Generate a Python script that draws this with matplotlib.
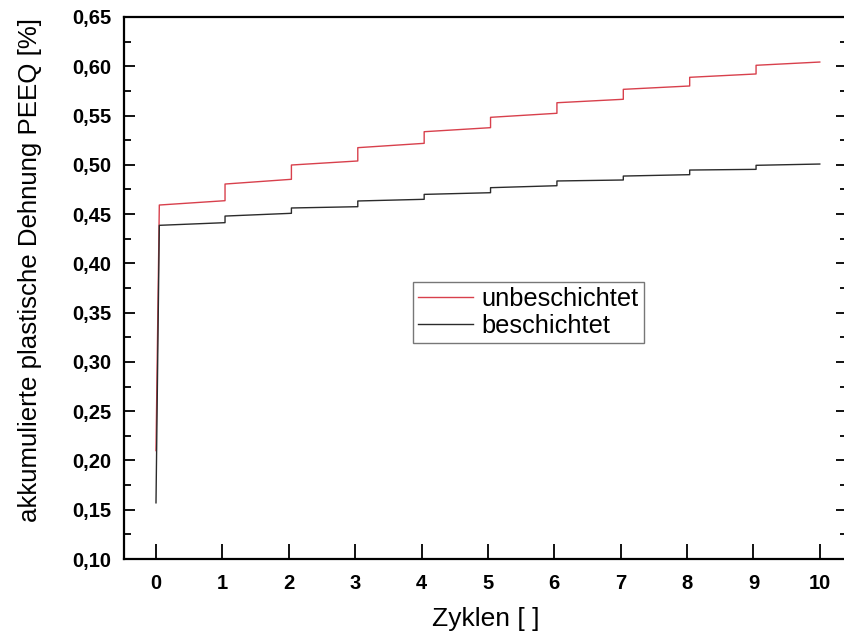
import numpy as np
import matplotlib
matplotlib.use("Agg")
import matplotlib.pyplot as plt
from matplotlib.ticker import MultipleLocator, FuncFormatter

plt.rcParams['font.family'] = ['Liberation Sans', 'DejaVu Sans']

# Cycle boundaries (Zyklen) where the strain steps up
step_x = [0.05, 1.04, 2.04, 3.04, 4.04, 5.04, 6.04, 7.04, 8.04, 9.04]
end_x = 10.0

# Initial loading (value at x=0)
start_unbesch = 0.21
start_besch = 0.157

# PEEQ at the beginning and end of each cycle
unbesch_start = [0.4592, 0.4805, 0.4998, 0.5174, 0.5336, 0.5482, 0.5630, 0.5766, 0.5888, 0.6010]
unbesch_end = [0.4636, 0.4853, 0.5039, 0.5218, 0.5377, 0.5523, 0.5665, 0.5800, 0.5922, 0.6043]
besch_start = [0.4386, 0.4480, 0.4562, 0.4633, 0.4700, 0.4768, 0.4836, 0.4886, 0.4947, 0.4995]
besch_end = [0.4413, 0.4508, 0.4575, 0.4650, 0.4717, 0.4788, 0.4846, 0.4900, 0.4954, 0.5008]

x_ticks = list(range(0, 11))


def staircase(y0, xs, starts, ends, xend):
    xs_out = [0.0, xs[0]]
    ys_out = [y0, starts[0]]
    bounds = list(xs[1:]) + [xend]
    for i, xb in enumerate(bounds):
        xs_out.append(xb)
        ys_out.append(ends[i])
        if i + 1 < len(starts):
            xs_out.append(xb)
            ys_out.append(starts[i + 1])
    return xs_out, ys_out


fig = plt.figure(figsize=(8.44, 6.39), dpi=100)
ax = fig.add_axes([124 / 844, 1 - 559 / 639, (847 - 124) / 844, (559 - 17) / 639])

xr, yr = staircase(start_unbesch, step_x, unbesch_start, unbesch_end, end_x)
xb, yb = staircase(start_besch, step_x, besch_start, besch_end, end_x)

ax.plot(xr, yr, color='#d8404c', lw=1.0, label='unbeschichtet')
ax.plot(xb, yb, color='#2b2b2b', lw=1.0, label='beschichtet')

ax.set_xlim(-0.482, 10.41)
ax.set_ylim(0.10, 0.65)
ax.set_xticks(x_ticks)
ax.yaxis.set_major_locator(MultipleLocator(0.05))
ax.yaxis.set_minor_locator(MultipleLocator(0.025))
ax.yaxis.set_major_formatter(FuncFormatter(lambda v, p: f"{v:.2f}".replace('.', ',')))

for s in ax.spines.values():
    s.set_linewidth(1.6)

ax.tick_params(axis='x', which='major', direction='in', length=11, width=1.3,
               labelsize=14.5, pad=11, top=False)
ax.tick_params(axis='y', which='major', direction='in', length=8, width=1.3,
               labelsize=14.5, pad=9, right=True)
ax.tick_params(axis='y', which='minor', direction='in', length=5, width=1.3, right=True)
for lbl in ax.get_xticklabels() + ax.get_yticklabels():
    lbl.set_fontweight('bold')

ax.set_xlabel('Zyklen [ ]', fontsize=19, labelpad=10)
ax.set_ylabel('akkumulierte plastische Dehnung PEEQ [%]', fontsize=18.6)
ax.yaxis.set_label_coords(-0.113, 0.533)

leg = ax.legend(loc='upper left', fontsize=18.3,
                bbox_to_anchor=(413 / 844, 1 - 282 / 639),
                bbox_transform=fig.transFigure,
                fancybox=False, framealpha=1, edgecolor='#777777',
                handlelength=2.15, handletextpad=0.35, borderpad=0.2,
                labelspacing=0.12, borderaxespad=0)
leg.get_frame().set_linewidth(1.0)

fig.savefig('out.png', dpi=100)
